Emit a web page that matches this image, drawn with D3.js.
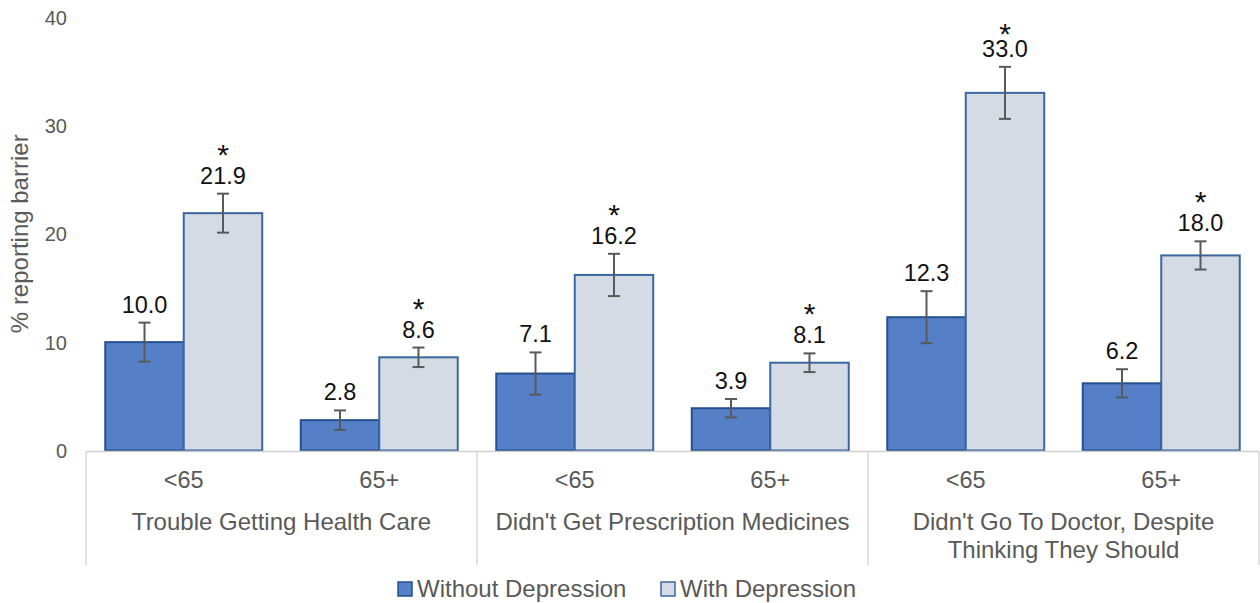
<!DOCTYPE html>
<html>
<head>
<meta charset="utf-8">
<script src="https://cdn.jsdelivr.net/npm/d3@7"></script>
<style>
  html, body { margin: 0; padding: 0; background: #fff; }
  svg { display: block; font-family: "Liberation Sans", Arial, sans-serif; }
</style>
</head>
<body>
<svg id="chart" width="1260" height="603"></svg>
<script>
// Barrier categories (outer level of the x axis), split into display lines
const barrierLines = [
  ["Trouble Getting Health Care"],
  ["Didn't Get Prescription Medicines"],
  ["Didn't Go To Doctor, Despite", "Thinking They Should"]
];
// Age groups (inner level of the x axis)
const ageGroups = ["<65", "65+"];
const seriesNames = ["Without Depression", "With Depression"];

// Percent reporting each barrier, in order barrier x age group
const withoutDepression = [10.0, 2.8, 7.1, 3.9, 12.3, 6.2];
const withDepression    = [21.9, 8.6, 16.2, 8.1, 33.0, 18.0];
// Half-widths of the error bars
const withoutDepressionErr = [1.8, 0.9, 1.95, 0.85, 2.4, 1.3];
const withDepressionErr    = [1.8, 0.9, 1.95, 0.86, 2.4, 1.3];
// Significant difference markers (*) on the "With Depression" bars
const withDepressionSig = [true, true, true, true, true, true];

const yTicks = [0, 10, 20, 30, 40];

(function () {
  const svg = d3.select("#chart");
  const plotLeft = 86, plotRight = 1259, plotTop = 17, zeroY = 450.5;

  const cells = [];
  barrierLines.forEach((b, bi) => ageGroups.forEach((a, ai) => cells.push(bi * ageGroups.length + ai)));

  const x = d3.scaleBand().domain(cells).range([plotLeft, plotRight]).paddingInner(0.197).paddingOuter(0.0985);
  const xs = d3.scaleBand().domain(seriesNames).range([0, x.bandwidth()]);
  const y = d3.scaleLinear().domain([0, 40]).range([zeroY, plotTop]);

  const fills = { "Without Depression": "#5580C8", "With Depression": "#D5DBE5" };
  const strokes = { "Without Depression": "#24518F", "With Depression": "#3A679F" };

  // Y axis tick labels (no axis line or gridlines)
  const yAxis = d3.axisLeft(y).tickValues(yTicks).tickSize(0).tickPadding(0).tickFormat(d3.format("d"));
  const gy = svg.append("g").attr("transform", "translate(67,0)").call(yAxis);
  gy.select(".domain").remove();
  gy.selectAll("text").attr("fill", "#595959").style("font-size", "20px")
    .style("font-family", "'Liberation Sans', Arial, sans-serif").attr("dy", "0.35em");

  svg.append("text")
    .attr("transform", `translate(28,${(plotTop + zeroY) / 2}) rotate(-90)`)
    .attr("text-anchor", "middle")
    .attr("fill", "#595959").style("font-size", "24px")
    .text("% reporting barrier");

  // Bars
  const rows = [];
  cells.forEach(i => {
    rows.push({ cell: i, series: seriesNames[0], v: withoutDepression[i], e: withoutDepressionErr[i], sig: false });
    rows.push({ cell: i, series: seriesNames[1], v: withDepression[i], e: withDepressionErr[i], sig: withDepressionSig[i] });
  });

  svg.append("g").selectAll("rect").data(rows).join("rect")
    .attr("x", d => x(d.cell) + xs(d.series))
    .attr("y", d => y(d.v))
    .attr("width", xs.bandwidth())
    .attr("height", d => y(0) - y(d.v))
    .attr("fill", d => fills[d.series])
    .attr("stroke", d => strokes[d.series])
    .attr("stroke-width", 2);

  // Category axis baseline and group separators
  svg.append("line").attr("x1", plotLeft).attr("x2", plotRight).attr("y1", zeroY + 1).attr("y2", zeroY + 1)
    .attr("stroke", "#D0D0D0").attr("stroke-width", 1.5);
  const sepX = d3.range(barrierLines.length + 1).map(k => plotLeft + k * (plotRight - plotLeft) / barrierLines.length);
  svg.append("g").selectAll("line").data(sepX).join("line")
    .attr("x1", d => d).attr("x2", d => d).attr("y1", zeroY + 1).attr("y2", 565)
    .attr("stroke", "#D9D9D9").attr("stroke-width", 1.5);

  // Error bars
  const gErr = svg.append("g").attr("stroke", "#595959").attr("stroke-width", 2);
  rows.forEach(d => {
    const cx = x(d.cell) + xs(d.series) + xs.bandwidth() / 2;
    gErr.append("line").attr("x1", cx).attr("x2", cx).attr("y1", y(d.v + d.e)).attr("y2", y(d.v - d.e));
    gErr.append("line").attr("x1", cx - 6).attr("x2", cx + 6).attr("y1", y(d.v + d.e)).attr("y2", y(d.v + d.e));
    gErr.append("line").attr("x1", cx - 6).attr("x2", cx + 6).attr("y1", y(d.v - d.e)).attr("y2", y(d.v - d.e));
  });

  // Value labels; significant bars carry a "*" line above the value
  const gLab = svg.append("g").attr("text-anchor", "middle").attr("fill", "#111");
  rows.forEach(d => {
    const cx = x(d.cell) + xs(d.series) + xs.bandwidth() / 2;
    const base = y(d.v + d.e) - 10;
    const t = gLab.append("text").attr("x", cx).attr("y", base);
    if (d.sig) {
      const starCenter = Math.max(base - 33, plotTop + 13);
      t.append("tspan").attr("x", cx).attr("y", starCenter + 14)
        .style("font-size", "30px").text("*");
    }
    t.append("tspan").attr("x", cx).attr("y", base)
      .style("font-size", "23.5px").text(d3.format(".1f")(d.v));
  });

  // Age group labels
  svg.append("g").selectAll("text").data(cells).join("text")
    .attr("x", d => x(d) + x.bandwidth() / 2)
    .attr("y", 488)
    .attr("text-anchor", "middle").attr("fill", "#595959").style("font-size", "23.5px")
    .text(d => ageGroups[d % ageGroups.length]);

  // Barrier labels
  const gGroup = svg.append("g").attr("text-anchor", "middle").attr("fill", "#595959").style("font-size", "24px");
  barrierLines.forEach((lines, bi) => {
    const cx = (sepX[bi] + sepX[bi + 1]) / 2;
    lines.forEach((t, li) => gGroup.append("text").attr("x", cx).attr("y", 530 + li * 28).text(t));
  });

  // Legend
  const legendX = [398, 661];
  const gLeg = svg.append("g");
  seriesNames.forEach((s, i) => {
    gLeg.append("rect").attr("x", legendX[i]).attr("y", 582).attr("width", 14).attr("height", 14)
      .attr("fill", fills[s]).attr("stroke", strokes[s]).attr("stroke-width", 1.5);
    gLeg.append("text").attr("x", legendX[i] + 19).attr("y", 597)
      .attr("fill", "#595959").style("font-size", "24px").text(s);
  });
})();
</script>
</body>
</html>
